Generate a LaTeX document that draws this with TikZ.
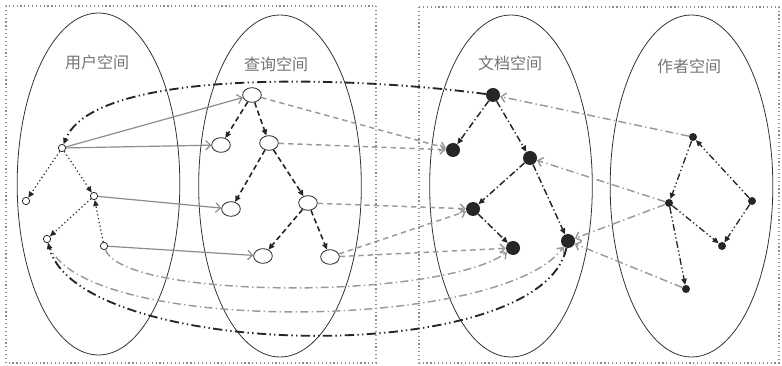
\documentclass[tikz,border=0pt]{standalone}
\usepackage{fontspec}
\newfontfamily\cjk{Noto Sans CJK SC}
\usetikzlibrary{arrows.meta,shapes.geometric}
\begin{document}
\begin{tikzpicture}[x=0.75pt,y=-0.75pt,
  frame/.style={draw=black!45, dotted, line width=0.9pt},
  space/.style={draw=black!80, line width=0.6pt, ellipse, minimum width=122pt, minimum height=256.5pt, inner sep=0pt},
  lab/.style={font=\cjk\fontsize{12}{14}\selectfont, text=black!55},
  unode/.style={circle, draw=black!85, line width=0.6pt, fill=white, minimum size=5.5pt, inner sep=0pt},
  qnode/.style={ellipse, draw=black!85, line width=0.6pt, fill=white, minimum width=14pt, minimum height=11pt, inner sep=0pt},
  dnode/.style={circle, fill=black!85, minimum size=10.5pt, inner sep=0pt},
  anode/.style={circle, fill=black!85, minimum size=6pt, inner sep=0pt},
  btip/.style={-{Triangle[length=4.5pt,width=4pt]}},
  gtip/.style={-{Straight Barb[length=3.5pt,width=7pt]}},
  utree/.style={black!85, dotted, line width=0.9pt, btip},
  qtree/.style={black!85, dash pattern=on 4pt off 2.5pt, line width=1.2pt, btip},
  dtree/.style={black!85, dash pattern=on 5pt off 2pt on 1pt off 2pt, line width=1.1pt, btip},
  atree/.style={black!85, dash pattern=on 5pt off 2pt on 1pt off 2pt on 1pt off 2pt, line width=1.0pt, btip},
  gsolid/.style={draw=black!45, line width=0.9pt, gtip},
  gdash/.style={draw=black!40, dash pattern=on 4pt off 3pt, line width=1.1pt, gtip},
  gdashdot/.style={draw=black!40, dash pattern=on 6pt off 2.5pt on 1pt off 2.5pt, line width=1.1pt, gtip},
  bcurve/.style={draw=black!85, dash pattern=on 7pt off 2.5pt on 1pt off 2.5pt on 1pt off 2.5pt, line width=1.4pt, btip}
]
\useasboundingbox (0,0) rectangle (782,366);
% frames
\draw[frame] (6,6) rectangle (376,363);
\draw[frame] (419,7) rectangle (779,363);
% spaces
\node[space] (su) at (98.5,184) {};
\node[space] (sq) at (280,186) {};
\node[space] (sd) at (511,186) {};
\node[space] (sa) at (691.5,186) {};
% labels
\node[lab] (lu) at (97,62) {用户空间};
\node[lab] (lq) at (276,64) {查询空间};
\node[lab] (ld) at (510,63) {文档空间};
\node[lab] (la) at (689,66) {作者空间};
% user nodes
\node[unode] (u1) at (62,148) {};
\node[unode] (u2) at (26,201) {};
\node[unode] (u3) at (94,196) {};
\node[unode] (u4) at (47,239) {};
\node[unode] (u5) at (104,246) {};
% query nodes
\node[qnode] (q1) at (252,95) {};
\node[qnode] (q2) at (221,145) {};
\node[qnode] (q3) at (269,143) {};
\node[qnode] (q4) at (231,209) {};
\node[qnode] (q5) at (308,203) {};
\node[qnode] (q6) at (263,256) {};
\node[qnode] (q7) at (330,257) {};
% doc nodes
\node[dnode] (d1) at (493,95) {};
\node[dnode] (d2) at (453,150) {};
\node[dnode] (d3) at (530,158) {};
\node[dnode] (d4) at (473,209) {};
\node[dnode] (d5) at (513,248) {};
\node[dnode] (d6) at (568,241) {};
% author nodes
\node[anode] (a1) at (693,137) {};
\node[anode] (a2) at (669,203) {};
\node[anode] (a3) at (752,201) {};
\node[anode] (a4) at (722,246) {};
\node[anode] (a5) at (686,289) {};
% user tree
\draw[utree] (u1) -- (u2);
\draw[utree] (u1) -- (u3);
\draw[utree] (u3) -- (u4);
\draw[utree] (u5) -- (u3);
% query tree
\draw[qtree] (q1) -- (q2);
\draw[qtree] (q1) -- (q3);
\draw[qtree] (q3) -- (q4);
\draw[qtree] (q3) -- (q5);
\draw[qtree] (q5) -- (q6);
\draw[qtree] (q5) -- (q7);
% doc tree
\draw[dtree] (d1) -- (d2);
\draw[dtree] (d1) -- (d3);
\draw[dtree] (d3) -- (d4);
\draw[dtree] (d3) -- (d6);
\draw[dtree] (d4) -- (d5);
% author tree
\draw[atree] (a1) -- (a2);
\draw[atree] (a3) -- (a1);
\draw[atree] (a2) -- (a4);
\draw[atree] (a3) -- (a4);
\draw[atree] (a2) -- (a5);
% user -> query
\draw[gsolid] (u1) -- (q1);
\draw[gsolid] (u1) -- (q2);
\draw[gsolid] (u3) -- (q4);
\draw[gsolid] (u5) -- (q6);
% query -> doc
\draw[gdash] (q1) -- (d2);
\draw[gdash] (q3) -- (d2);
\draw[gdash] (q5) -- (d4);
\draw[gdash] (q7) -- (d4);
\draw[gdash] (q7) -- (d5);
% author -> doc
\draw[gdashdot] (a1) -- (d1);
\draw[gdashdot] (a2) -- (d3);
\draw[gdashdot] (a2) -- (d6);
\draw[gdashdot] (a5) -- (d6);
% user -> doc curves
\draw[gdashdot] (u5) .. controls (125,300) and (440,300) .. (d5);
\draw[gdashdot] (u4) .. controls (75,335) and (500,333) .. (d6);
% doc -> user curves
\draw[bcurve] (d1) .. controls (350,76) and (95,68) .. (u1);
\draw[bcurve] (d6) .. controls (540,370) and (80,360) .. (u4);
\end{tikzpicture}
\end{document}
